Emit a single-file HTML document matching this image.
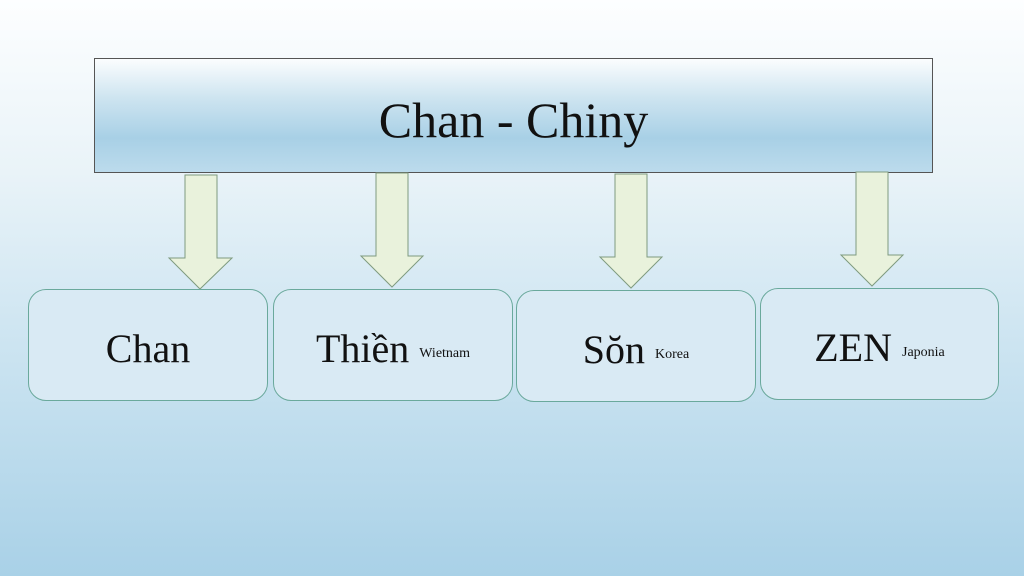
<!DOCTYPE html>
<html><head><meta charset="utf-8"><style>
body{margin:0;width:1024px;height:576px;overflow:hidden;background:linear-gradient(#fdfeff 0%,#e9f3f8 30%,#cce4f1 60%,#a9d1e7 100%);font-family:"Liberation Serif",serif;position:relative}
.t{position:absolute;left:94px;top:58px;width:837px;height:113px;border:1px solid #555;background:linear-gradient(#fbfdfe 0%,#cde4f0 35%,#a8d0e6 70%,#bcdbec 100%);display:flex;align-items:center;justify-content:center;font-size:50px;color:#111;padding-top:8px;box-sizing:content-box;height:105px}
.b{position:absolute;width:237px;height:112px;border:1px solid #6aa99c;border-radius:18px;background:#d9eaf4;display:flex;align-items:center;justify-content:center;font-size:40px;color:#111;box-sizing:border-box;padding-top:6px}
.b small{font-size:14px;margin-left:10px;position:relative;top:6px}
svg{position:absolute;left:0;top:0}
</style></head><body>
<div class="t">Chan - Chiny</div>
<svg width="1024" height="576">
<g fill="#e9f2dc" stroke="#7f9b7f" stroke-width="1">
<polygon points="185,175 217,175 217,258 232,258 200,289 169,258 185,258"/>
<polygon points="376,173 408,173 408,256 423,256 392,287 361,256 376,256"/>
<polygon points="615,174 647,174 647,257 662,257 631,288 600,257 615,257"/>
<polygon points="856,172 888,172 888,255 903,255 872,286 841,255 856,255"/>
</g></svg>
<div class="b" style="left:28px;top:289px;width:240px">Chan</div>
<div class="b" style="left:273px;top:289px;width:240px">Thiền<small>Wietnam</small></div>
<div class="b" style="left:516px;top:290px;width:240px">Sŏn<small>Korea</small></div>
<div class="b" style="left:760px;top:288px;width:239px">ZEN<small>Japonia</small></div>
</body></html>
